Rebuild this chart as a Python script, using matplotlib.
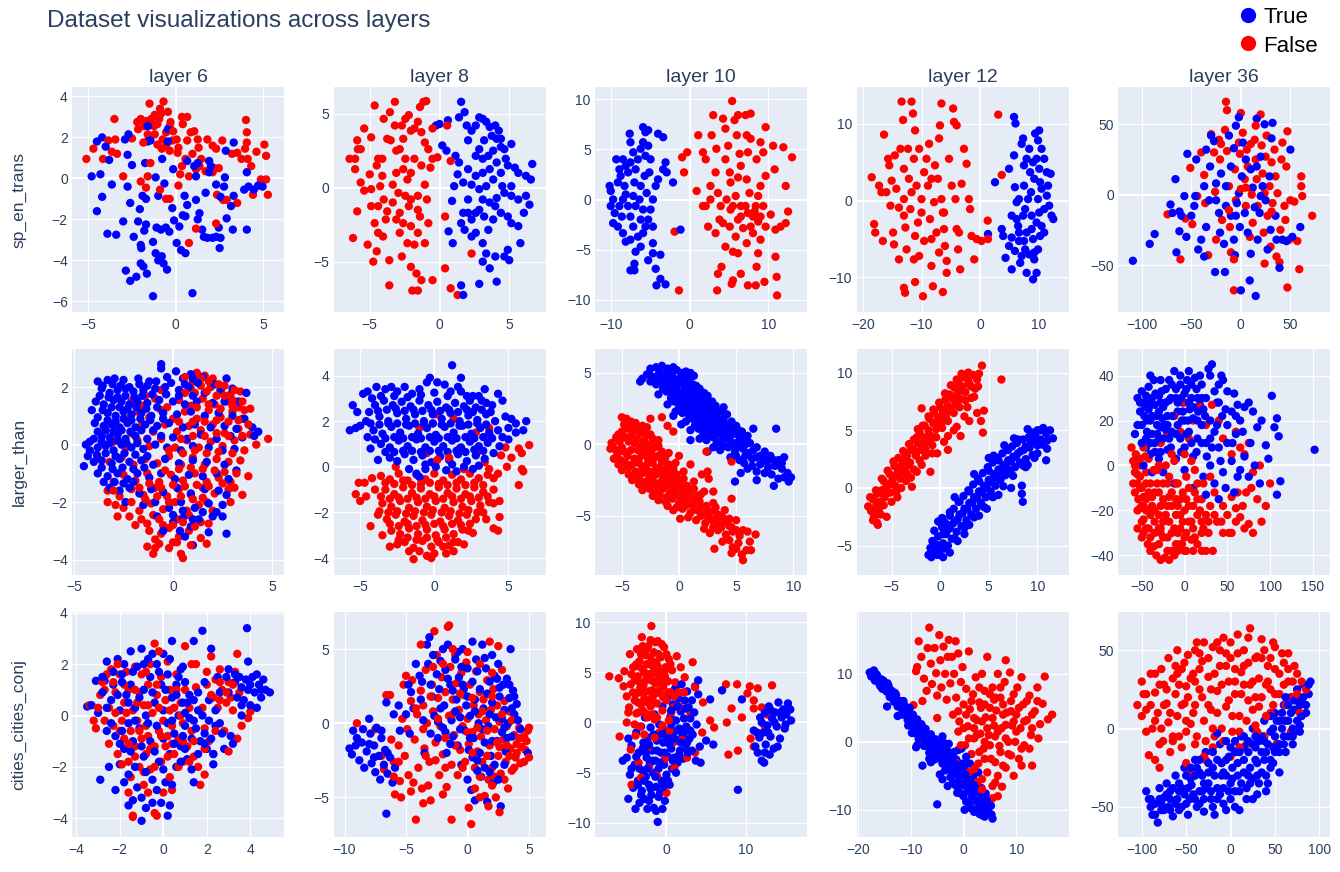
import matplotlib
matplotlib.use("Agg")
import matplotlib.pyplot as plt
import numpy as np
from matplotlib.lines import Line2D

plt.rcParams['font.family'] = ['Liberation Sans', 'DejaVu Sans']

datasets = ["sp_en_trans", "larger_than", "cities_cities_conj"]
layers = [6, 8, 10, 12, 36]

# flat x, y pairs, one list per panel and label
sp_l6_true = [-4.8,0.1, -4.5,1.8, -4.2,2.0, -4.3,0.2, -4.2,-0.9, -4.5,-1.6, -3.9,-2.7, -3.4,-2.75, -3.65,-0.3, -3.8,0.9, -4.0,1.55, -2.9,1.9, -2.7,2.15, -2.75,1.15, -2.5,0.65, -2.75,-0.4, -2.6,-1.2, -3.0,-2.1, -2.85,-4.5, -2.6,-5.0, -2.25,-4.8, -2.0,-4.15, -1.65,-4.65, -1.85,-4.3, -1.8,-2.55, -2.15,-2.1, -2.4,-2.85, -2.0,-3.25, -1.97,-3.4, -1.7,-2.25, -2.05,-1.5, -1.7,-1.0, -1.9,-0.85, -1.75,0.75, -1.6,1.8, -1.6,2.55, -1.45,1.85, -1.3,-5.75, -1.3,-3.1, -1.15,-3.65, -1.0,-4.0, -0.8,-3.8, -0.7,-4.15, -0.5,-4.45, -0.85,-2.5, -1.1,-2.4, -0.57,-2.4, -0.37,-2.6, -1.0,-0.85, -0.65,-0.25, -0.78,0.95, -0.45,2.4, -0.15,0.45, -0.2,-1.45, -0.1,-2.05, 0.05,-3.15, 0.3,-3.5, 0.55,-3.65, 0.2,-2.35, 0.5,-0.85, 0.65,-1.3, 0.4,-1.8, 0.55,-1.85, 0.95,-5.6, 1.05,0.6, 1.25,0.75, 1.15,0.1, 1.35,-1.7, 1.25,-2.0, 1.5,-2.5, 1.6,-2.85, 1.8,-2.9, 2.1,-2.9, 2.3,-2.85, 2.45,-2.4, 2.55,-2.9, 2.5,-3.4, 2.9,-1.95, 2.75,-0.4, 2.3,-0.3, 2.55,-0.9, 1.9,0.3, 1.9,0.85, 1.7,-0.7, 2.8,0.05, 2.85,1.35, 3.3,1.75, 3.3,-0.85, 3.25,-2.5, 4.05,-2.5, 3.9,-0.55, 4.05,0.3, 4.45,-0.55, 4.7,-0.35, 4.95,-0.4, 4.15,-0.4, 3.15,-1.35, 1.15,-1.05, -1.15,0.05, -0.45,1.8, 0.65,0.85, 2.0,0.6]
sp_l6_false = [-5.1,0.95, -4.7,1.45, -4.15,0.95, -3.85,1.85, -3.5,2.9, -3.45,1.9, -3.35,1.2, -3.65,1.3, -3.0,0.1, -2.5,1.95, -2.2,2.75, -2.15,2.4, -2.0,2.9, -1.8,2.55, -1.7,2.8, -1.6,2.15, -1.55,1.9, -1.4,2.9, -1.5,3.65, -1.25,2.55, -1.2,2.15, -1.05,2.65, -0.95,2.9, -0.85,3.15, -0.7,3.75, -0.9,3.4, -0.45,3.25, -0.35,2.55, -0.55,2.25, -0.75,1.9, -1.05,1.65, -0.8,1.45, -0.55,1.6, -0.35,1.35, -0.2,1.85, 0.05,1.9, 0.15,1.5, 0.1,1.25, 0.35,3.0, 0.65,3.0, 0.4,2.65, 0.65,1.85, 0.85,2.25, 1.05,2.3, 0.95,1.2, 0.55,0.95, 0.35,0.6, 0.25,0.2, 0.15,-0.35, 0.75,0.1, 1.15,0.45, 1.35,0.6, 1.3,1.5, 1.45,0.95, 1.8,1.9, 2.1,1.6, 2.3,1.45, 2.45,0.5, 2.2,0.5, 2.1,0.3, 1.7,0.35, 2.65,1.85, 2.35,-0.8, 2.9,-1.05, 2.7,-1.05, 3.5,-1.2, 3.2,1.2, 3.5,1.25, 3.75,0.95, 3.95,1.45, 4.0,2.85, 4.05,2.25, 4.1,0.95, 4.05,1.75, 4.3,0.6, 4.4,-0.8, 4.6,1.3, 5.05,1.65, 5.15,1.1, 5.15,-0.05, 5.25,-0.8, 4.85,-0.05, 2.3,-2.2, 1.15,-2.45, 0.75,-3.15, -0.55,-1.0, -0.35,-1.0, -0.9,-0.55, -1.7,-0.45, -2.0,-0.15, -1.6,0.1, -1.45,0.75, -1.85,1.75, -0.15,2.3, 1.25,1.9, -0.3,2.75, -1.2,3.1]

sp_l8_true = [-0.25,4.2, 0.0,4.3, 0.6,4.55, 0.2,2.85, 0.5,2.5, 1.15,2.15, 1.4,1.7, 1.3,0.9, 1.05,0.1, 0.9,-0.9, 0.65,-2.95, 0.95,-3.75, 1.55,-2.4, 1.7,-1.7, 2.05,-1.7, 2.3,-2.15, 2.6,-1.7, 2.85,-1.5, 2.05,-0.8, 1.7,0.35, 1.4,4.75, 1.55,5.8, 1.8,5.1, 1.95,4.2, 2.05,3.2, 2.3,3.85, 2.6,4.2, 2.85,4.75, 3.1,4.65, 3.35,4.45, 3.6,4.1, 4.0,4.2, 4.25,3.85, 4.4,3.3, 4.1,3.3, 3.75,3.5, 3.2,3.2, 2.85,2.6, 2.6,2.15, 3.1,1.95, 3.5,2.15, 3.85,2.5, 4.4,2.75, 4.65,2.6, 5.15,2.95, 4.75,1.95, 4.1,1.7, 3.6,1.25, 3.1,1.0, 2.6,0.8, 2.3,0.2, 2.85,-0.1, 3.35,0.1, 3.85,0.55, 4.4,1.0, 4.9,1.5, 5.4,1.35, 5.65,1.0, 6.2,0.8, 6.55,0.55, 6.65,1.6, 6.2,-0.55, 6.45,-1.15, 6.05,-1.7, 5.65,-0.8, 5.15,-0.55, 4.65,-0.35, 4.1,-0.7, 3.6,-1.0, 3.1,-0.8, 3.2,-1.95, 3.85,-2.15, 4.4,-1.7, 4.9,-1.95, 5.15,-2.4, 5.65,-2.6, 5.8,-3.75, 4.9,-4.2, 5.0,-4.9, 4.65,-4.65, 4.1,-6.35, 4.0,-4.65, 3.35,-4.45, 3.1,-5.0, 3.6,-5.45, 2.85,-6.5, 3.1,-3.75, 2.6,-3.05, 2.3,-3.3, 1.8,-2.85, 1.55,-6.6, 1.7,-7.25, 2.05,1.25, 4.5,0.1, 4.0,-1.25, 5.15,0.1, 3.5,-2.85]
sp_l8_false = [-6.45,1.95, -6.05,1.95, -5.9,3.2, -5.85,2.6, -5.65,2.6, -5.4,4.0, -4.65,5.55, -4.9,3.4, -6.05,1.25, -5.65,0.35, -5.4,-0.2, -5.9,-1.6, -6.2,-3.4, -5.15,-3.85, -4.75,-5.0, -4.5,-4.3, -4.4,-1.25, -4.9,-1.25, -5.0,0.9, -4.5,1.5, -4.4,1.95, -4.1,1.95, -4.25,0.1, -4.0,-0.8, -3.85,-2.15, -4.65,-2.4, -4.4,-3.05, -4.05,-3.3, -3.6,-4.9, -3.6,-6.6, -4.0,4.65, -3.75,3.3, -3.5,3.2, -3.55,5.1, -3.2,5.8, -3.2,4.2, -3.1,2.5, -2.85,2.6, -2.7,4.2, -2.6,3.3, -2.45,4.65, -2.2,4.9, -2.05,3.85, -1.8,4.0, -1.55,4.45, -1.4,5.45, -1.15,5.8, -0.95,5.85, -0.5,4.0, -1.05,3.05, -0.8,2.6, -0.5,1.95, -0.15,2.05, -0.65,1.35, -1.3,1.5, -1.8,1.95, -2.05,1.0, -2.3,0.55, -2.6,1.25, -3.1,1.0, -3.35,0.2, -2.95,-0.35, -2.45,-0.55, -2.05,-0.8, -1.55,-0.55, -1.05,0.2, -0.9,-0.8, -1.55,-1.5, -2.2,-1.25, -2.85,-1.7, -3.1,-2.15, -2.6,-2.4, -2.05,-2.6, -1.55,-3.05, -1.05,-3.75, -0.8,-2.4, -1.8,-3.85, -2.3,-3.75, -2.7,-4.65, -2.05,-5.35, -1.65,-5.8, -1.3,-6.25, -1.55,-6.95, -1.95,-6.95, -0.5,-6.25, 0.4,-5.45, 0.8,-6.8, 1.3,-7.25, 2.3,-4.45, 0.4,-1.95, 0.8,1.8, 0.55,4.2, -4.9,-0.1, -3.75,-1.6, -2.85,-3.05, -1.4,-1.95, -4.1,0.8, -2.45,1.95, -1.3,3.75, -3.35,-1.0]

sp_l10_true = [-10.15,1.35, -10.0,0.85, -9.7,0.0, -10.0,-0.65, -9.7,-2.35, -9.5,-1.35, -9.3,4.0, -8.9,3.0, -8.75,2.35, -9.1,1.7, -8.45,4.0, -8.1,3.35, -7.6,6.55, -7.5,5.7, -7.15,4.7, -7.5,3.7, -7.8,2.7, -8.25,1.35, -8.45,0.0, -8.9,-0.65, -8.6,-1.7, -9.1,-2.7, -8.45,-3.35, -8.1,-4.2, -7.5,-4.0, -7.15,-2.7, -7.5,-1.7, -7.8,-0.65, -7.15,0.35, -7.0,1.7, -6.85,3.0, -6.55,4.0, -6.2,5.05, -5.9,7.2, -5.6,6.7, -5.25,6.9, -5.9,5.7, -5.6,4.35, -5.25,5.35, -4.95,4.0, -5.1,2.7, -5.7,2.35, -6.2,1.35, -6.35,0.0, -5.9,-1.0, -6.2,-2.0, -5.6,-2.7, -5.25,-2.0, -4.95,-1.0, -4.65,0.0, -4.3,1.35, -4.0,2.0, -4.0,6.55, -3.35,6.2, -3.05,3.7, -3.35,3.0, -2.1,1.7, -2.9,2.7, -6.55,-3.7, -6.2,-4.7, -6.85,-5.2, -7.5,-7.05, -7.0,-6.4, -7.0,-7.05, -5.25,-6.05, -4.65,-4.35, -4.65,-5.35, -3.7,-5.5, -4.3,-6.9, -4.2,-8.55, -3.7,-7.9, -3.05,-8.45, -1.15,-3.0, -5.9,-3.35, -8.1,0.5, -6.85,-0.65, -5.45,0.65, -4.65,-2.7]
sp_l10_false = [-1.9,-3.2, -1.35,-9.05, -0.95,4.2, -0.3,4.7, -0.7,2.7, 0.9,0.85, 1.1,6.4, 1.7,4.7, 2.05,4.0, 1.7,-0.65, 2.35,-2.7, 3.0,8.4, 2.8,6.4, 3.4,5.05, 3.3,2.7, 2.65,1.35, 3.6,0.65, 3.95,-0.65, 3.8,-2.0, 3.3,-3.35, 3.6,-7.4, 3.5,-9.05, 4.05,-6.7, 4.25,8.05, 4.55,7.05, 4.9,5.35, 4.55,4.0, 5.1,2.7, 5.2,1.7, 4.7,0.0, 5.2,-1.0, 5.1,-2.7, 4.55,-4.7, 5.4,9.8, 5.7,7.9, 6.0,6.4, 6.15,8.4, 6.35,4.55, 6.5,3.35, 6.15,2.2, 5.85,0.35, 6.5,-0.65, 6.15,-2.0, 5.85,-3.7, 5.5,-5.2, 6.15,-5.35, 6.5,-7.4, 5.5,-8.05, 5.35,-8.4, 7.1,8.4, 7.75,8.55, 7.25,6.4, 7.75,6.05, 7.4,4.7, 7.25,2.0, 7.6,0.65, 7.1,-0.65, 7.4,-1.35, 8.05,-1.7, 7.75,-2.7, 7.25,-4.35, 8.05,-3.35, 8.4,-0.65, 8.7,0.35, 8.5,4.0, 9.0,5.7, 9.65,7.2, 9.35,4.7, 9.65,2.35, 9.0,1.35, 9.35,-0.65, 9.65,-2.7, 9.0,-4.0, 8.7,-5.35, 8.5,-6.7, 8.4,-8.55, 7.4,-8.55, 9.5,-8.2, 10.9,-5.7, 11.05,-7.7, 11.1,-9.55, 10.8,3.0, 10.6,5.35, 11.9,5.2, 13.0,4.2, 12.2,1.35, 12.5,-1.2, 12.2,-2.35, 10.9,-3.0, 11.55,-2.7, 10.3,-1.5, 9.0,-1.7, 6.5,-1.7, 5.5,-0.65, 2.05,-0.65, 2.65,0.0, 4.25,-2.35, 8.7,-2.2, 6.8,-2.85, 8.25,-1.2]

sp_l12_true = [2.55,2.4, 1.35,-4.35, 3.7,-3.7, 3.95,-4.6, 4.35,-7.45, 4.95,4.15, 5.4,-1.95, 5.8,10.9, 6.05,10.05, 5.8,5.9, 5.95,1.75, 5.4,-8.95, 5.95,-6.55, 6.25,-0.2, 6.5,-3.3, 6.65,-5.25, 6.85,-8.1, 7.1,7.4, 7.35,8.1, 7.5,4.6, 7.5,1.95, 7.7,-1.1, 7.95,-4.15, 7.7,-6.35, 7.95,-9.4, 8.4,6.75, 8.55,3.7, 8.7,1.1, 8.8,-1.95, 9.05,-5.0, 9.25,-7.65, 9.05,-10.25, 9.65,-9.4, 9.4,8.75, 10.1,9.15, 9.9,7.85, 9.65,5.45, 10.1,4.15, 10.25,2.4, 9.9,0.2, 10.1,-1.55, 10.5,-3.3, 10.25,-4.6, 9.9,-6.35, 9.25,-6.75, 10.95,5.45, 11.4,3.7, 11.6,1.95, 11.8,-0.65, 12.2,-1.95, 12.5,-2.4, 12.05,3.5, 11.4,0.65, 10.95,-1.1, 10.5,1.55, 9.25,2.85, 8.2,0.2, 7.35,-1.95, 6.65,0.2, 7.95,5.45, 8.8,-3.7, 7.1,-7.2, 8.4,-7.0, 5.4,-4.8, 6.25,-2.4, 4.95,-5.9, 6.65,-4.15, 9.65,-2.85, 10.95,-4.15, 7.5,-5.25, 9.05,5.0, 10.5,6.75]
sp_l12_false = [-18.5,3.05, -18.1,-3.05, -17.9,-4.15, -17.25,1.95, -16.85,1.1, -16.6,-5.25, -16.4,8.6, -16.0,1.1, -15.7,5.45, -15.1,2.6, -15.3,-0.65, -14.85,-4.15, -14.7,-5.7, -14.55,5.9, -14.3,1.55, -13.85,-7.65, -13.6,6.75, -13.4,12.9, -13.15,10.5, -13.0,4.15, -13.0,0.2, -12.75,-3.5, -12.55,-6.35, -13.0,-11.35, -12.8,-12.0, -12.3,6.75, -12.15,2.85, -11.9,-1.1, -11.7,12.9, -11.45,11.35, -11.1,9.15, -11.3,5.45, -10.85,1.95, -10.6,-2.85, -11.1,-4.6, -10.4,-7.2, -11.1,-10.6, -9.75,-12.45, -10.0,0.2, -9.55,3.7, -9.15,5.45, -8.7,7.4, -8.9,1.95, -8.55,-2.4, -9.55,-5.25, -8.3,-5.0, -8.3,-8.5, -8.05,-11.15, -7.7,4.6, -7.2,2.85, -7.0,8.1, -6.85,9.8, -6.6,12.65, -6.6,0.2, -6.35,-1.55, -6.15,-3.7, -6.0,-5.9, -5.7,-7.85, -5.7,-9.4, -6.35,-11.9, -5.3,5.45, -4.85,1.95, -4.6,12.0, -4.45,10.25, -4.0,9.8, -4.2,0.2, -4.0,-3.7, -3.6,-4.15, -3.75,-6.35, -3.4,-8.95, -2.75,6.75, -2.3,4.8, -3.15,2.2, -1.9,0.2, -1.7,-1.1, -1.45,-4.6, -1.0,-7.65, -0.6,-5.0, 0.25,-5.25, 1.3,-2.6, 1.35,-5.0, 3.1,11.2, 3.7,3.35, -15.5,4.6, -11.7,1.1, -7.85,-0.2, -8.3,2.85, -10.0,-1.55, -6.15,-1.55, -10.4,6.75, -7.45,-4.15, -13.0,-1.95, -13.85,-0.9, -11.3,-7.65, -7.0,-6.75]

sp_l36_true = [-109,-47, -92,-35, -87,-28, -71,-7, -69,-13, -65,-41, -66,11, -62,-12, -62,-26, -60,-15, -57,-1, -54,29, -55,-30, -50,-15, -47,-8, -46,-1, -45,25, -43,-39, -40,-32, -37,-44, -35,-23, -32,-4, -31,20, -30,42, -27,38, -26,-55, -25,8, -22,-13, -21,-27, -20,15, -17,-35, -16,-55, -15,-8, -12,42, -10,20, -7,33, -6,-43, -5,49, -4,-6, -2,55, -2,1, -1,-23, 0,-68, 1,13, 2,37, 4,-13, 5,25, 7,-27, 9,-61, 10,-42, 12,5, 14,-9, 15,-72, 16,54, 16,20, 17,-32, 19,-13, 20,27, 22,6, 24,50, 25,-4, 27,-39, 29,13, 31,40, 32,51, 35,-15, 36,-32, 39,-52, 42,-32, 46,-33, 50,32, 52,-30, 60,-23, 10,18, -10,-15, -25,-4, -37,6, -15,6, -5,-15, 20,-1, 30,-25, -35,32, -7,-32]
sp_l36_false = [-74,-14, -61,-46, -56,-17, -51,19, -49,-21, -44,-1, -40,30, -37,14, -36,-6, -33,-43, -30,43, -27,30, -26,2, -22,39, -21,25, -19,-18, -16,46, -14,31, -12,6, -15,66, -14,60, -11,-23, -10,-41, -7,-68, -6,18, -5,-4, -2,37, -1,29, 0,58, 2,44, 4,11, 5,-8, 6,32, 7,20, 9,-30, 10,36, 11,4, 12,-20, 14,39, 15,25, 16,11, 17,-8, 20,57, 21,35, 22,15, 23,-27, 24,1, 25,27, 26,42, 27,-15, 29,6, 30,-37, 31,23, 32,-6, 34,32, 35,13, 36,-44, 37,1, 39,-48, 40,-25, 41,25, 42,37, 44,-8, 46,20, 47,45, 47,-66, 49,-32, 50,-4, 54,-5, 57,-33, 59,-53, 61,13, 61,6, 62,-1, 72,-15, 11,0, 0,4, -20,36, 15,49, -7,-46, -25,-32, 24,-49, -12,-11, 31,-12, 45,-18, 5,5]

lt_l6_true = [-0.6,2.8, -0.6,2.65, 0.15,2.55, 0.9,2.45, -3.8,2.2, -3.3,2.25, -2.95,2.3, -2.5,2.25, -1.7,2.1, -1.2,2.2, -0.3,2.35, 0.5,2.3, 1.0,2.3, 1.5,2.35, 2.7,2.3, 2.1,2.1, -3.6,1.95, -3.2,1.8, -2.8,1.9, -2.4,1.95, -2.0,1.85, -1.5,1.9, -0.9,1.95, -0.4,2.0, 0.3,1.9, 0.8,2.0, 1.6,1.8, 2.4,1.9, 3.0,1.95, 3.7,1.8, 3.3,1.5, -3.9,1.5, -3.5,1.4, -3.0,1.55, -2.6,1.5, -2.2,1.4, -1.8,1.5, -1.3,1.45, -0.7,1.55, 0.0,1.5, 0.6,1.4, 1.2,1.5, 2.0,1.45, 2.6,1.5, -3.8,0.95, -3.3,1.1, -2.9,1.0, -2.5,1.15, -2.1,1.05, -1.6,1.1, -1.1,1.0, -0.5,1.1, 0.2,1.05, 0.9,1.15, 1.6,1.0, 2.3,1.1, 3.0,1.0, 3.6,0.9, -3.5,0.65, -3.1,0.7, -2.7,0.6, -2.3,0.75, -1.9,0.6, -1.4,0.7, -0.8,0.65, -0.2,0.75, 0.5,0.6, 1.1,0.7, 1.9,0.6, 2.6,0.65, 3.2,0.55, 4.0,0.6, 4.3,0.45, 4.1,0.3, -4.0,0.2, -3.6,0.3, -3.2,0.25, -2.8,0.35, -2.4,0.2, -1.9,0.3, -1.3,0.2, -0.6,0.3, 0.0,0.25, 0.7,0.2, 1.4,0.35, 2.2,0.2, 2.9,0.3, 3.5,0.25, -4.4,0.0, -4.2,-0.2, -3.8,-0.1, -3.4,-0.05, -3.0,-0.2, -2.6,0.0, -2.1,-0.1, -1.5,-0.15, -0.9,0.0, -0.3,-0.1, 0.4,-0.2, 1.0,-0.05, 1.8,-0.1, 2.5,-0.2, 3.1,-0.15, -4.5,-0.75, -4.0,-0.6, -3.6,-0.55, -3.1,-0.65, -2.7,-0.5, -2.2,-0.6, -1.6,-0.55, -1.0,-0.7, -0.4,-0.5, 0.3,-0.65, 1.0,-0.55, 1.7,-0.6, 2.6,-0.7, 3.2,-0.9, -3.8,-1.0, -3.3,-1.1, -2.8,-1.0, -2.3,-1.2, -1.8,-1.0, -1.2,-1.15, -0.6,-1.0, 0.1,-1.2, 0.8,-1.05, 1.5,-1.1, 2.2,-1.0, 2.8,-1.2, -3.2,-1.5, -2.7,-1.6, -2.2,-1.5, -1.7,-1.7, -1.1,-1.55, -0.5,-1.65, 0.2,-1.5, 0.9,-1.7, 1.6,-1.55, 2.3,-1.6, 2.7,-1.75, -2.4,-2.0, -1.5,-2.1, -0.9,-2.0, -0.2,-2.2, 0.4,-2.0, 1.1,-2.2, 1.8,-2.05, 2.5,-2.1, -0.8,-2.5, 0.0,-2.7, 0.5,-2.55, 1.3,-2.6, 2.0,-2.5, 2.5,-2.5, 0.9,-2.85, 0.6,-3.2, 1.0,-3.5, 2.7,-3.1, 0.35,-3.0, 1.8,-3.05, -0.5,-3.0,
              -3.55,2.05, -3.05,2.1, -2.65,2.05, -2.2,2.0, -1.75,2.3, -1.3,2.05, -0.85,2.2, -0.1,2.15, 0.6,2.1, 1.25,2.15, -3.7,1.7, -3.25,1.65, -2.8,1.65, -2.4,1.7, -1.95,1.65, -1.55,1.7, -1.05,1.75, -0.35,1.75, 0.3,1.7, 1.0,1.7, -4.1,1.2, -3.55,1.2, -3.1,1.3, -2.7,1.3, -2.3,1.25, -1.85,1.3, -1.35,1.25, -0.8,1.3, -3.95,0.75, -3.3,0.85, -2.9,0.8, -2.5,0.9, -2.1,0.85, -1.65,0.9, -1.15,0.85, -0.5,0.9, -3.8,0.45, -3.4,0.5, -3.0,0.45, -2.6,0.5, -2.15,0.45, -1.6,0.5, -1.0,0.5, -4.2,0.1, -3.6,0.1, -3.2,0.05, -2.8,0.15, -2.35,0.05, -1.8,0.05, -4.3,-0.4, -3.85,-0.35, -3.4,-0.3, -2.9,-0.4, -2.45,-0.3, -1.9,-0.35, -1.3,-0.4, -3.6,-0.8, -3.05,-0.85, -2.55,-0.8, -2.0,-0.85, -1.45,-0.8, -3.5,-1.3, -2.95,-1.3, -2.5,-1.35, -2.0,-1.3, 0.5,-2.3, 1.5,-2.35, 2.2,-2.35, 0.0,-2.45, 1.0,-2.6]
lt_l6_false = [1.2,2.5, 1.6,2.4, 2.0,2.3, 1.0,2.2, 0.9,1.95, 1.4,2.05, 1.9,2.0, 2.4,1.9, 2.9,1.75, 3.4,1.85, -0.6,1.9, -1.4,1.7, -2.1,1.5, -1.5,1.35, -0.9,1.6, -0.3,1.3, 0.3,1.55, 0.9,1.35, 1.5,1.6, 2.1,1.4, 2.7,1.5, 3.3,1.3, -2.4,0.9, -1.8,1.15, -1.2,0.95, -0.6,1.2, 0.0,0.9, 0.6,1.15, 1.2,0.9, 1.8,1.2, 2.4,0.95, 3.0,1.15, 3.6,1.2, 3.9,1.25, 3.5,0.9, -2.9,0.5, -2.1,0.4, -1.6,0.65, -1.0,0.45, -0.4,0.7, 0.2,0.45, 0.8,0.65, 1.4,0.5, 2.0,0.7, 2.6,0.4, 3.3,0.55, 3.9,0.35, 4.8,0.2, -3.0,0.1, -2.4,-0.1, -1.8,0.15, -1.2,-0.05, -0.6,0.2, 0.1,-0.1, 0.7,0.15, 1.3,-0.1, 1.9,0.1, 2.5,-0.05, 3.1,0.15, 3.6,-0.2, -3.8,-0.45, -3.2,-0.6, -2.6,-0.45, -2.0,-0.7, -1.4,-0.5, -0.8,-0.65, -0.2,-0.4, 0.4,-0.7, 1.0,-0.45, 1.6,-0.7, 2.2,-0.5, 2.8,-0.6, 3.4,-0.55, -3.0,-1.3, -2.5,-1.05, -1.9,-1.25, -1.3,-1.0, -0.7,-1.3, -0.1,-1.05, 0.5,-1.25, 1.1,-1.0, 1.7,-1.3, 2.3,-1.15, 2.9,-1.3, 3.8,-1.1, -3.3,-1.6, -2.7,-1.8, -2.1,-1.55, -1.5,-1.75, -0.9,-1.5, -0.3,-1.8, 0.3,-1.55, 0.9,-1.75, 1.5,-1.5, 2.1,-1.7, 2.8,-1.55, 3.1,-1.5, 3.5,-1.75, -3.3,-2.0, -2.9,-2.1, -2.5,-2.2, -1.7,-2.3, -1.1,-2.05, -0.5,-2.25, 0.1,-2.0, 0.7,-2.3, 1.3,-2.1, 2.0,-2.3, 2.9,-2.0, 1.7,-2.0, -2.2,-2.5, -1.6,-2.6, -1.0,-2.45, -0.5,-2.8, 0.2,-2.6, 0.8,-2.45, 1.4,-2.7, 1.8,-2.75, -1.2,-3.0, -0.6,-3.1, -0.2,-2.9, 0.3,-3.2, 0.8,-3.0, 1.4,-3.25, -0.9,-3.3, -1.3,-3.55, -0.7,-3.45, -0.2,-3.6, 0.2,-3.4, 0.5,-3.95, 0.4,-3.8, 1.7,-3.45, -0.9,-3.6,
               0.6,2.35, 1.4,2.3, 1.8,2.2, 2.3,2.1, 2.6,2.05, 3.1,1.9, 0.6,1.8, 1.1,1.8, 1.7,1.85, 2.2,1.7, 2.6,1.7, 3.0,1.55, 1.2,1.3, 1.8,1.4, 2.4,1.25, 3.0,1.35, 3.5,1.5, 0.3,0.8, 1.0,0.8, 1.6,0.8, 2.2,0.85, 2.8,0.8, 3.3,0.85, 3.8,0.7, 0.4,0.2, 1.0,0.3, 1.6,0.3, 2.2,0.4, 2.8,0.3, 3.5,0.3, 4.2,0.0, -0.2,-0.2, 0.5,-0.3, 1.1,-0.2, 1.7,-0.3, 2.3,-0.25, 3.0,-0.3, -0.4,-0.9, 0.3,-0.85, 0.9,-0.8, 1.5,-0.85, 2.1,-0.9, 2.6,-0.95, 3.2,-1.0, -1.7,-1.5, -1.2,-1.35, -0.6,-1.5, 0.0,-1.4, 0.6,-1.45, 1.2,-1.4, 1.8,-1.45, 2.5,-1.35, -2.1,-2.0, -1.4,-1.9, -0.8,-1.8, -0.2,-2.0, 0.4,-1.8, 1.0,-1.9, 1.5,-1.85, -1.9,-2.8, -1.3,-2.75, -0.7,-2.6, 0.0,-2.8, 0.5,-2.7, 1.1,-2.85, -1.0,-3.8, 0.0,-3.4, 0.9,-3.5, -2.8,-2.5, -3.0,-1.6]

lt_l8_true = [-5.7,1.6, -5.5,2.7, -5.3,1.7, -5.0,1.8, -5.2,2.4, -4.8,3.2, -4.5,3.3, -4.2,3.0, -4.6,2.0, -4.5,1.3, -4.3,0.8, -3.8,0.3, -3.9,3.5, -3.3,3.4, -2.9,3.5, -2.5,3.3, -2.0,3.5, -1.5,3.2, -1.0,3.4, -0.5,3.7, -0.3,3.9, 0.2,3.7, 0.7,3.6, 1.2,4.45, 1.1,3.3, 1.6,3.5, 1.8,3.9, 2.2,3.1, 2.6,3.1, 3.0,3.1, 3.4,3.4, 3.2,2.9, 3.5,2.8, 4.3,3.2, 4.6,2.9, 4.8,2.2, 5.2,2.1, 5.5,1.9, 6.2,2.0, 6.0,1.6, 5.0,1.2, 5.5,1.5, -4.0,2.7, -3.4,2.9, -2.8,2.7, -2.2,2.85, -1.6,2.65, -1.0,2.9, -0.4,2.7, 0.2,2.85, 0.8,2.6, 1.4,2.8, 2.0,2.65, 2.8,2.6, 3.9,2.7, -3.7,2.2, -3.1,2.0, -2.5,2.35, -1.9,2.1, -1.3,2.3, -0.7,2.0, -0.1,2.3, 0.5,2.1, 1.1,2.35, 1.7,2.0, 2.3,2.25, 2.9,2.05, 3.5,2.3, 4.1,2.0, -4.1,1.6, -3.5,1.45, -2.9,1.75, -2.3,1.5, -1.7,1.8, -1.1,1.45, -0.5,1.7, 0.1,1.4, 0.7,1.75, 1.3,1.5, 1.9,1.8, 2.5,1.45, 3.1,1.7, 3.7,1.5, 4.3,1.6, -3.6,1.0, -3.0,0.85, -2.4,1.15, -1.8,0.9, -1.2,1.2, -0.6,0.85, 0.0,1.1, 0.6,0.9, 1.2,1.15, 1.8,0.85, 2.4,1.1, 3.0,0.9, 3.6,1.05, 4.4,0.9, -3.0,0.4, -2.5,0.25, -2.0,0.55, -1.4,0.3, -0.8,0.5, -0.2,0.2, 0.4,0.45, 1.0,0.3, 1.6,0.55, 2.2,0.25, 2.8,0.5, 3.4,0.35, 4.0,0.6, -1.7,-0.1, -1.2,-0.3, -1.0,-0.45, -0.6,-0.1, 0.8,-0.15, 1.5,-0.2, 2.6,-0.1, 3.0,0.05,
              -4.4,2.4, -3.8,2.45, -3.2,2.5, -2.6,2.55, -2.0,2.45, -1.4,2.5, -0.8,2.45, -0.2,2.5, 0.4,2.45, 1.0,2.5, 1.6,2.4, 2.2,2.5, 2.6,2.4, 3.2,2.5, 3.8,2.4, -4.3,1.9, -3.7,1.85, -3.1,1.9, -2.5,1.9, -1.9,1.85, -1.3,1.9, -0.7,1.85, -0.1,1.9, 0.5,1.85, 1.1,1.9, 1.7,1.8, 2.3,1.85, 2.9,1.9, 3.5,1.85, -4.0,1.2, -3.3,1.25, -2.7,1.3, -2.1,1.25, -1.5,1.3, -0.9,1.25, -0.3,1.3, 0.3,1.25, 0.9,1.3, 1.5,1.25, 2.1,1.3, 2.7,1.25, 3.3,1.3, 3.9,1.25, -3.3,0.65, -2.7,0.65, -2.1,0.7, -1.5,0.7, -0.9,0.65, -0.3,0.7, 0.3,0.7, 0.9,0.65, 1.5,0.7, 2.1,0.65, 2.7,0.75, 3.3,0.7, -3.6,3.1, -2.7,3.1, -1.8,3.05, -0.9,3.15, 0.0,3.25, 0.9,3.1, 1.8,3.3, 2.4,2.9, -0.6,0.1, 0.1,0.0, 1.2,0.1, 2.0,0.0, 4.6,1.3, 5.0,1.7]
lt_l8_false = [-5.3,-1.2, -5.0,-1.5, -5.1,-0.7, -4.7,-0.7, -4.6,-1.3, -4.2,-0.5, -4.0,-1.0, -4.3,-2.6, -3.8,-2.1, -3.5,-3.0, -3.0,-3.5, -2.5,-3.4, -1.4,-4.05, -0.2,-4.0, 0.6,-3.5, 1.3,-3.7, 2.0,-3.4, 2.6,-2.9, 3.5,-2.3, 4.0,-2.7, 4.3,-2.8, 4.4,-2.2, 4.0,-1.0, 4.3,-0.3, 4.9,0.0, 5.2,0.4, 5.7,0.8, 6.4,0.95, 5.9,0.6, 5.9,-0.1, 6.0,-0.2, 5.7,-0.8, 4.5,0.5, 4.8,0.85, 3.8,1.3, 3.7,1.7, 2.8,1.5, 1.3,2.1, 0.1,2.3, -0.1,1.9, -1.0,1.7, 1.7,0.8, 3.0,0.7, 3.4,0.2, -0.5,0.6, -2.6,0.0, -3.6,-0.4, -3.0,-0.55, -2.4,-0.3, -1.8,-0.6, -1.2,-0.35, -0.6,-0.55, 0.0,-0.3, 0.6,-0.6, 1.2,-0.35, 1.8,-0.55, 2.4,-0.3, 3.0,-0.5, 3.6,-0.35, -3.3,-1.0, -2.7,-1.2, -2.1,-0.9, -1.5,-1.15, -0.9,-0.95, -0.3,-1.2, 0.3,-0.9, 0.9,-1.15, 1.5,-0.95, 2.1,-1.2, 2.7,-0.9, 3.3,-1.1, -3.5,-1.6, -2.9,-1.75, -2.3,-1.5, -1.7,-1.8, -1.1,-1.55, -0.5,-1.75, 0.1,-1.5, 0.7,-1.8, 1.3,-1.55, 1.9,-1.75, 2.5,-1.5, 3.1,-1.7, 3.7,-1.55, -3.2,-2.3, -2.6,-2.1, -2.0,-2.4, -1.4,-2.15, -0.8,-2.35, -0.2,-2.1, 0.4,-2.4, 1.0,-2.15, 1.6,-2.35, 2.2,-2.1, 2.8,-2.3, 3.3,-2.0, -2.9,-2.8, -2.3,-2.95, -1.7,-2.7, -1.1,-2.95, -0.5,-2.75, 0.1,-3.0, 0.7,-2.75, 1.3,-2.95, 1.9,-2.75, 2.3,-2.8, -2.0,-3.3, -1.4,-3.55, -0.8,-3.25, -0.2,-3.5, 0.3,-3.3, 1.0,-3.45, 1.6,-3.3, -1.0,-3.7, 0.0,-3.8,
               -3.3,-0.7, -2.7,-0.75, -2.1,-0.6, -1.5,-0.8, -0.9,-0.75, -0.3,-0.7, 0.3,-0.75, 0.9,-0.8, 1.5,-0.7, 2.1,-0.8, 2.7,-0.7, 3.3,-0.8, -3.6,-1.3, -3.0,-1.4, -2.4,-1.35, -1.8,-1.4, -1.2,-1.35, -0.6,-1.4, 0.0,-1.3, 0.6,-1.4, 1.2,-1.3, 1.8,-1.4, 2.4,-1.3, 3.0,-1.35, 3.6,-1.3, -3.7,-1.95, -3.1,-2.0, -2.5,-1.95, -1.9,-2.05, -1.3,-1.95, -0.7,-2.0, -0.1,-1.9, 0.5,-2.0, 1.1,-1.95, 1.7,-2.05, 2.3,-1.9, 2.9,-2.0, -3.0,-2.5, -2.4,-2.6, -1.8,-2.5, -1.2,-2.6, -0.6,-2.55, 0.0,-2.5, 0.6,-2.6, 1.2,-2.5, 1.8,-2.55, 2.4,-2.5, -2.4,-3.2, -1.8,-3.1, -1.2,-3.2, -0.5,-3.1, 0.2,-3.2, 0.8,-3.1, 1.3,-3.3, -0.5,-3.9, -1.7,-3.7, 0.8,-3.8, 4.0,-0.5, 4.0,-1.6, 3.7,-0.1, 4.4,-1.5, 2.0,-0.1, 1.0,0.4, 0.2,0.3]

lt_l10_true = [-3.4,4.4, -3.2,4.6, -2.8,4.9, -2.5,5.3, -2.0,5.4, -1.5,5.5, -1.0,5.3, -0.5,5.4, 0.2,5.0, 0.6,5.1, 1.0,5.0, 1.3,4.8, -2.2,4.7, -1.8,4.9, -1.2,4.9, -0.6,4.8, 0.0,4.6, 0.6,4.5, -2.0,4.2, -1.4,4.3, -0.8,4.2, -0.2,4.1, 0.5,4.0, 1.2,4.2, 1.8,3.9, -1.8,3.5, -1.1,3.7, -0.5,3.5, 0.1,3.6, 0.7,3.4, 1.3,3.5, 1.9,3.3, 2.5,3.4, -1.0,2.8, -0.4,3.0, 0.2,2.9, 0.8,2.8, 1.4,2.95, 2.0,2.7, 2.6,2.8, 3.2,2.7, -0.3,2.3, 0.3,2.2, 0.9,2.4, 1.5,2.2, 2.1,2.3, 2.7,2.1, 3.3,2.3, 3.9,2.6, 4.2,2.1, 0.6,1.6, 1.2,1.8, 1.8,1.6, 2.4,1.7, 3.0,1.5, 3.6,1.7, 4.3,1.4, 5.2,1.0, 5.5,0.9, 1.0,1.0, 1.7,1.1, 2.3,1.0, 2.9,0.9, 3.5,1.0, 4.1,0.8, 4.7,0.9, 5.3,0.5, 6.0,0.6, 6.5,1.1, 8.5,1.1, 1.8,0.4, 2.4,0.3, 3.0,0.5, 3.6,0.2, 4.2,0.4, 4.8,0.1, 5.4,0.2, 6.2,0.1, 6.8,-0.2, 7.5,-0.5, 3.0,-0.2, 3.6,-0.4, 4.3,-0.2, 4.9,-0.5, 5.6,-0.3, 6.1,-0.6, 6.8,-0.9, 7.4,-1.0, 8.0,-0.8, 8.7,-1.1, 9.2,-0.9, 4.5,-0.9, 5.3,-1.1, 5.7,-1.3, 6.4,-1.5, 7.1,-1.4, 7.8,-1.6, 8.4,-1.5, 9.0,-1.7, 9.5,-2.0, 9.8,-2.3, 9.6,-2.6, 8.3,-2.9, 6.8,-2.5, 4.9,-2.6, 5.4,-2.0, 8.7,-2.4, 1.0,0.3, 0.2,1.4, -0.5,2.0, 2.5,-0.5,
               -2.6,4.9, -1.7,5.2, -0.9,5.1, -0.2,5.2, 0.4,4.8, 0.9,4.6, -2.5,4.4, -1.7,4.6, -1.0,4.6, -0.4,4.45, 0.3,4.3, 0.9,4.3, 1.5,4.1, -1.4,3.9, -0.8,3.85, -0.2,3.8, 0.4,3.75, 1.0,3.75, 1.6,3.7, 2.2,3.6, -0.7,3.25, -0.1,3.2, 0.5,3.15, 1.1,3.2, 1.7,3.1, 2.3,3.05, 2.9,3.0, 0.0,2.6, 0.6,2.55, 1.2,2.6, 1.8,2.5, 2.4,2.5, 3.0,2.4, 3.6,2.3, 0.9,2.0, 1.5,1.9, 2.1,1.95, 2.7,1.85, 3.3,1.9, 3.9,1.8, 4.6,1.6, 1.4,1.35, 2.0,1.3, 2.6,1.35, 3.2,1.25, 3.8,1.3, 4.4,1.1, 5.0,1.3, 2.1,0.7, 2.7,0.65, 3.3,0.7, 3.9,0.6, 4.5,0.6, 5.1,0.7, 5.7,0.4, 3.3,0.1, 3.9,-0.1, 4.5,-0.05, 5.1,-0.1, 5.8,0.0, 6.5,-0.4, 5.0,-0.8, 5.8,-0.8, 6.4,-1.0, 7.1,-0.8, 7.7,-1.2, 8.3,-1.1, 9.0,-1.3, 6.0,-1.7, 6.8,-1.9, 7.5,-2.0, 8.1,-2.1, 9.2,-2.3]
lt_l10_false = [-5.0,1.9, -4.6,1.8, -4.2,1.6, -3.8,1.5, -3.2,1.3, -2.8,1.2, -2.5,1.8, -1.5,1.9, -1.0,1.3, -0.5,0.9, 0.0,-0.8, 1.0,-1.4, 2.5,-1.9, -5.9,0.1, -5.5,0.5, -5.0,0.9, -4.5,1.1, -4.0,1.0, -3.5,0.8, -2.9,0.6, -2.3,0.4, -1.8,0.3, -6.0,-0.3, -5.5,-0.4, -5.0,-0.2, -4.4,0.2, -3.9,0.1, -3.3,-0.1, -2.7,-0.3, -2.1,-0.2, -1.5,-0.5, -0.9,-0.6, -5.7,-1.0, -5.1,-1.1, -4.5,-0.8, -3.9,-1.0, -3.3,-0.8, -2.7,-1.1, -2.1,-0.9, -1.5,-1.2, -0.9,-1.4, -0.3,-1.3, -5.0,-1.8, -4.4,-1.6, -3.8,-1.9, -3.2,-1.6, -2.6,-1.9, -2.0,-1.7, -1.4,-2.0, -0.8,-1.9, -0.2,-2.1, 0.4,-1.9, -4.1,-2.5, -3.5,-2.4, -2.9,-2.6, -2.3,-2.4, -1.7,-2.7, -1.1,-2.5, -0.5,-2.8, 0.1,-2.6, 0.7,-2.9, 1.3,-2.6, -3.2,-3.2, -2.6,-3.1, -2.0,-3.3, -1.4,-3.1, -0.8,-3.4, -0.2,-3.2, 0.4,-3.5, 1.0,-3.3, 1.6,-3.6, 2.2,-3.3, -1.8,-3.9, -1.2,-4.0, -0.6,-3.8, 0.0,-4.1, 0.6,-3.9, 1.2,-4.2, 1.8,-4.0, 2.4,-4.3, 3.0,-4.1, -0.5,-4.6, 0.3,-4.5, 1.0,-4.8, 1.6,-4.6, 2.2,-4.9, 2.8,-4.7, 3.4,-4.9, 4.0,-4.6, 0.1,-5.2, 1.5,-5.3, 2.3,-5.5, 2.9,-5.3, 3.5,-5.6, 4.1,-5.4, 4.6,-5.8, 5.0,-5.3, 2.7,-6.2, 3.4,-6.0, 4.1,-6.3, 4.7,-6.1, 5.3,-6.4, 6.0,-6.1, 6.7,-6.3, 3.1,-7.3, 4.6,-7.6, 5.0,-7.3, 5.5,-7.7, 5.9,-7.4, 6.3,-7.4, 4.7,-7.2, 5.6,-8.1, 1.7,-3.7, 2.0,-2.1, 2.6,-2.4, 3.0,-3.3, 4.6,-3.8, 4.6,-1.2, 2.4,-0.5,
                -5.3,0.7, -4.8,1.4, -4.3,1.4, -3.6,1.2, -3.0,0.9, -2.5,0.7, -5.8,-0.1, -5.2,0.2, -4.7,0.5, -4.2,0.6, -3.6,0.4, -3.0,0.2, -2.4,0.0, -1.8,-0.1, -5.4,-0.7, -4.8,-0.5, -4.2,-0.4, -3.6,-0.4, -3.0,-0.6, -2.4,-0.65, -1.8,-0.8, -1.2,-0.9, -5.3,-1.4, -4.7,-1.3, -4.1,-1.4, -3.5,-1.3, -2.9,-1.5, -2.3,-1.3, -1.7,-1.6, -1.1,-1.7, -0.5,-1.7, -4.4,-2.1, -3.8,-2.2, -3.2,-2.0, -2.6,-2.2, -2.0,-2.1, -1.4,-2.4, -0.8,-2.3, -0.2,-2.5, 0.4,-2.4, -3.5,-2.8, -2.9,-2.9, -2.3,-2.8, -1.7,-3.0, -1.1,-2.9, -0.5,-3.1, 0.1,-3.0, 0.7,-3.2, 1.3,-3.1, -2.3,-3.6, -1.7,-3.5, -1.1,-3.7, -0.5,-3.5, 0.1,-3.7, 0.7,-3.6, 1.3,-3.8, 1.9,-3.5, -1.0,-4.3, -0.2,-4.4, 0.6,-4.3, 1.3,-4.5, 1.9,-4.4, 2.5,-4.6, 3.2,-4.4, 0.8,-5.1, 1.9,-5.0, 2.6,-5.1, 3.2,-5.2, 3.8,-5.1, 4.4,-5.2, 2.2,-5.9, 3.0,-5.8, 3.7,-5.8, 4.4,-5.7, 5.0,-6.0, 5.6,-6.0, 3.8,-6.8, 4.4,-6.7, 5.2,-6.9, 6.2,-6.8]

lt_l12_true = [-1.2,-5.8, -0.9,-6.0, -0.6,-5.5, -1.0,-5.2, -0.4,-4.9, -0.6,-3.7, -0.2,-4.2, 0.0,-5.4, 0.2,-3.4, 0.3,-4.8, 0.5,-3.0, 0.6,-4.0, 0.8,-5.0, 1.0,-2.4, 1.0,-3.5, 1.2,-4.4, 1.4,-1.8, 1.5,-2.9, 1.7,-3.8, 1.9,-1.2, 2.0,-2.3, 2.2,-3.3, 2.4,-0.7, 2.5,-1.8, 2.7,-2.8, 2.9,-0.2, 3.0,-1.3, 3.2,-2.3, 3.4,0.3, 3.5,-0.8, 3.7,-1.8, 3.9,0.8, 4.0,-0.3, 4.2,-1.3, 4.4,1.3, 4.5,0.2, 4.7,-0.8, 4.9,1.8, 5.0,0.7, 5.2,-0.3, 5.4,2.2, 5.5,1.2, 5.7,0.2, 5.9,2.6, 6.0,1.6, 6.2,0.7, 6.4,3.0, 6.5,2.0, 6.7,1.1, 6.9,3.3, 7.0,2.4, 7.2,1.5, 7.4,3.6, 7.5,2.7, 7.7,1.8, 7.9,3.9, 8.0,3.0, 8.2,2.2, 8.5,4.2, 8.6,3.3, 8.8,2.5, 9.1,4.4, 9.2,3.5, 9.5,4.8, 9.7,3.9, 10.0,5.0, 10.3,4.2, 10.6,5.2, 10.9,4.7, 11.3,5.0, 11.6,4.3, 10.0,3.0, 8.8,1.8, 8.4,-0.5, 8.5,-1.2, 8.4,0.2, 7.3,0.0, 6.0,-0.6, 4.8,-1.8, 4.0,-2.4, 5.4,-0.8, 3.0,-3.2, 1.8,-4.6, 2.5,-4.0, -0.2,-2.9, 9.7,2.6, 10.9,2.4, 11.0,3.4, 6.6,3.7, 5.0,2.6,
               0.0,-3.0, 1.0,-2.1, 2.0,-1.2, 3.0,-0.3, 4.0,0.6, 5.0,1.5, 6.0,2.4, 7.0,3.3, 8.0,4.2, 9.0,5.1, 0.5,-5.25, 1.5,-4.35, 2.5,-3.45, 3.5,-2.55, 4.5,-1.65, 5.5,-0.75, 6.5,0.15, 7.5,1.05, 8.5,1.95, 9.5,2.85, 10.5,3.75, 0.3,-4.0, 0.8,-3.6, 1.3,-3.1, 1.8,-2.7, 2.3,-2.2, 2.8,-1.8, 3.3,-1.3, 3.8,-0.9, 4.3,-0.4, 4.8,0.0, 5.3,0.5, 5.8,0.9, 6.3,1.4, 6.8,1.8, 7.3,2.3, 7.8,2.7, 8.3,3.2, 8.8,3.6, 9.3,4.1, 9.8,4.5, 10.3,5.0, -0.8,-4.6, -0.3,-5.8, 0.3,-6.0, 1.0,-5.6, 0.2,-2.6, 1.5,-0.8, 3.5,1.2, 5.5,2.8, 7.6,4.3, 10.0,3.7, 11.0,4.1, 9.0,2.0]
lt_l12_false = [-7.4,-1.6, -7.1,-2.0, -6.8,-2.5, -6.5,-3.0, -6.9,-1.0, -6.5,-0.5, -6.6,-1.6, -6.2,-1.2, -6.0,-0.2, -6.1,-2.3, -5.8,0.6, -5.5,0.2, -5.7,-0.8, -5.3,-0.4, -5.2,1.2, -4.9,0.7, -5.0,-1.2, -4.6,0.2, -4.7,1.9, -4.4,1.3, -4.1,0.8, -4.3,2.6, -3.9,2.1, -3.6,1.5, -3.8,3.2, -3.4,2.8, -3.1,2.2, -3.5,0.6, -2.9,0.1, -3.2,3.8, -2.8,3.4, -2.5,2.8, -2.7,4.2, -2.3,3.9, -2.0,3.3, -2.1,4.8, -1.7,4.4, -1.4,3.9, -2.3,5.1, -1.6,5.4, -1.2,5.0, -0.9,4.5, -1.1,6.0, -0.7,5.6, -0.4,5.1, -0.6,6.5, -0.2,6.1, 0.1,5.6, -1.9,6.9, 0.0,7.0, 0.3,6.6, 0.6,6.2, 0.5,7.6, 0.8,7.1, 1.1,6.7, 1.0,8.1, 1.3,7.7, 1.6,7.2, 1.5,8.7, 1.8,8.2, 2.1,7.7, 1.9,9.2, 2.3,8.8, 2.6,8.3, 2.5,9.6, 2.9,9.3, 3.2,8.8, 3.4,9.8, 3.8,9.4, 4.3,10.6, 4.0,9.9, 6.3,9.4, 3.5,7.9, 4.5,6.7, 4.2,5.8, 4.4,4.8, 2.5,6.2, 1.7,5.3, 0.8,4.5, -0.8,3.7, -1.5,2.8, -2.4,1.4, -1.0,1.4, -5.5,-2.5, -6.4,-3.2, -0.3,3.0, 0.8,3.3, 2.1,4.5, 3.0,5.8, 2.8,7.0,
                -7.2,-0.8, -6.9,-2.8, -6.3,-2.0, -6.0,0.8, -5.8,-1.5, -5.4,1.5, -5.1,-0.4, -4.8,2.3, -4.5,-0.3, -4.2,1.8, -4.0,0.0, -3.7,2.6, -3.4,1.2, -3.0,3.3, -2.7,1.6, -2.4,4.4, -2.1,2.4, -1.8,5.4, -1.5,3.3, -1.2,6.2, -1.0,4.0, -0.7,6.8, -0.4,4.4, -0.1,7.4, 0.2,5.2, 0.5,8.2, 0.8,5.8, 1.1,8.9, 1.4,6.5, 1.7,9.4, 2.0,7.0, 2.2,9.9, 2.6,7.6, 2.9,10.0, 3.2,7.8, 3.6,8.6, 3.9,8.8, -6.6,-0.2, -5.9,-0.5, -5.2,0.3, -4.6,1.0, -3.9,1.4, -3.2,2.0, -2.5,3.0, -1.9,3.8, -1.2,4.5, -0.5,5.6, 0.2,6.2, 0.9,7.0, 1.6,7.8, 2.3,8.5, 3.0,9.0, -3.0,0.9, -1.9,2.0, -0.8,3.0, 0.4,4.0, 1.4,5.0, -4.4,-0.8, 3.8,6.5]

lt_l36_true = [-58,14, -55,18, -50,33, -48,28, -45,31, -42,25, -47,22, -52,24, -40,20, -44,15, -38,30, -35,27, -33,22, -30,31, -28,17, -25,26, -22,34, -20,22, -18,29, -15,36, -12,42, -10,30, -8,24, -5,36, -2,28, 0,32, 3,38, 6,25, 8,36, 12,39, 15,30, 18,27, 20,36, 25,30, 28,43, 32,45, 30,40, 35,33, 38,28, 40,36, 43,40, 45,38, 48,25, 50,33, 55,24, 58,32, 62,27, 65,20, 70,26, 75,28, 80,24, 85,17, 90,20, 95,9, 98,3, 102,31, 105,17, 108,21, 110,13, 112,-7, 108,-13, 88,-8, 82,0, 77,10, 68,15, 152,7, -45,8, -40,5, -35,10, -30,3, -25,12, -20,7, -15,15, -10,3, -5,12, 0,8, 5,15, 10,4, 15,12, 20,18, 25,10, 30,0, 35,15, 40,8, 45,-3, 50,10, 55,2, 60,14, 65,-2, 70,4, 48,-10, 35,-8, 22,-5, 10,-10, 0,-2, -12,-8, -25,-3, -38,-3, 58,-12, 40,-15, 25,-13, -50,10, -48,0, 62,-5, 75,-5, -55,30, -42,35, -36,38, -30,24, -27,33, -24,18, -38,14, -32,14, -18,12, -8,18, 5,28, 15,20, 22,25, -3,20, 10,21,
               -52,28, -46,26, -40,28, -34,32, -28,28, -22,28, -16,30, -10,34, -4,30, 2,34, 8,30, 14,34, 20,30, -50,18, -44,20, -38,22, -32,18, -26,21, -20,18, -14,22, -8,28, -2,24, 4,20, 10,26, 16,24, 24,22, 30,20, -45,12, -40,10, -34,6, -28,6, -22,16, -16,8, -10,14, -4,6, 2,14, 8,10, 14,6, 20,10, 26,4, 32,8, 38,18, 44,22, 50,18, 56,10, 42,2, 30,12, -40,40, -28,38, -18,38, -5,40, 5,42, 18,40, 0,20, -30,12, 40,28, 60,22]
lt_l36_false = [-62,8, -60,2, -58,-3, -57,5, -55,-8, -54,-15, -52,-19, -50,-25, -48,-30, -45,-28, -43,-35, -40,-38, -36,-36, -33,-40, -28,-42, -23,-41, -18,-42, -12,-40, -8,-38, -3,-35, 2,-38, 8,-33, 15,-35, 20,-30, 25,-38, 28,-30, 33,-38, 38,-25, 43,-25, 45,-30, 50,-22, 55,-30, 60,-19, 65,-23, 70,-28, 75,-26, 80,-30, 90,-25, 95,-18, 100,-8, 85,-15, 78,-10, 72,-12, 68,-18, 62,-12, 55,-14, 80,-3, 88,0, 70,5, 75,10, 60,15, 65,8, 55,5, 45,12, 40,20, 32,27, 25,18, 18,26, 10,20, 0,28, 5,12, -5,15, -12,22, -20,14, -28,10, -35,6, -42,3, -48,8, -52,0, -50,-10, -45,-15, -40,-8, -35,-20, -30,-12, -25,-25, -20,-18, -15,-30, -10,-22, -5,-28, 0,-20, 5,-25, 10,-18, 15,-22, 20,-15, 25,-22, 30,-18, 35,-12, -45,-3, -40,-22, -35,-30, -30,-35, -25,-8, -20,-32, -15,-12, -10,-35, -5,-15, 0,-32, 5,-10, 10,-28, 15,-8, 20,-25, -55,-20, -50,-32, -38,-14, -28,-28, -18,-5, -8,-8, 2,-5, 12,-2, 22,-8, 30,-5, -42,-28, -32,-2, -22,0, -12,2, -2,-12, 8,2, -48,-18, -60,-8, -58,-12, -52,-5,
                -58,0, -55,-4, -52,-10, -48,-14, -45,-20, -42,-12, -38,-18, -35,-25, -32,-8, -30,-22, -28,-30, -25,-15, -22,-22, -20,-38, -18,-25, -15,-18, -12,-28, -10,-15, -8,-30, -5,-22, -2,-25, 2,-30, 5,-18, 8,-25, 12,-32, 15,-15, 18,-20, 22,-28, 28,-25, 35,-22, -55,-28, -50,-18, -45,-8, -40,-32, -35,-12, -30,-28, -25,-32, -20,-8, -15,-38, -10,-8, -5,-35, 0,-38, 10,-38, 20,-38, -48,-24, -42,-20, -36,-2, -28,-18, -18,-14, -8,-18, 2,-15, 12,-12, -52,3, -46,4, -30,0, -15,5, 0,5, 45,-18, 60,-25, 52,-30]

cc_l6_true = [-3.5,0.35, -3.3,0.4, -3.1,1.35, -3.0,0.1, -2.9,-2.5, -2.8,0.9, -2.7,1.35, -2.6,2.1, -2.6,-0.6, -2.5,-2.0, -2.4,0.6, -2.3,1.2, -2.2,-0.8, -2.1,2.2, -2.2,-2.9, -2.0,0.2, -2.0,-1.9, -1.9,1.6, -1.8,-1.3, -1.8,2.0, -1.7,0.8, -1.6,-0.3, -1.6,-2.3, -1.5,2.5, -1.5,1.2, -1.4,-1.0, -1.4,-3.3, -1.6,-3.5, -1.3,0.3, -1.2,1.9, -1.2,-2.8, -1.1,-0.5, -1.0,2.6, -1.0,-4.1, -1.0,-3.2, -0.9,1.0, -0.9,-1.6, -0.8,-3.6, -0.8,0.0, -0.7,2.2, -0.6,-1.0, -0.6,1.5, -0.5,-2.5, -0.5,-3.4, -0.4,0.5, -0.3,2.0, -0.3,-0.4, -0.2,-1.8, -0.1,1.2, -0.1,-3.4, 0.0,2.4, 0.0,0.2, 0.0,-0.9, 0.1,-2.6, 0.2,1.6, 0.2,-0.3, 0.3,-1.5, 0.3,-3.5, 0.4,2.9, 0.4,0.7, 0.5,-0.7, 0.6,1.2, 0.6,-2.0, 0.7,0.0, 0.8,1.8, 0.8,-1.2, 0.9,0.5, 1.0,-0.4, 1.0,1.3, 1.1,-1.7, 1.2,0.8, 1.2,-0.1, 1.3,-0.9, 1.4,0.6, 1.4,2.9, 1.4,-2.6, 1.5,-0.5, 1.6,0.2, 1.6,-1.5, 1.7,-1.0, 1.8,3.3, 1.9,-0.7, 2.0,-1.3, 2.1,0.6, 2.2,2.6, 2.2,-0.9, 2.3,-1.9, 2.4,-0.4, 2.5,1.5, 2.6,-0.3, 2.8,-1.3, 3.0,1.8, 3.0,0.9, 3.2,-1.1, 3.3,1.3, 3.4,0.7, 3.5,1.5, 3.6,1.1, 3.7,0.6, 3.8,1.4, 3.85,3.4, 3.9,2.1, 3.9,1.0, 4.0,0.4, 4.1,1.5, 4.2,0.9, 4.3,0.3, 4.4,1.2, 4.5,0.7, 4.6,1.4, 4.7,1.0, 4.9,0.9, 3.6,0.0, 2.6,0.9, 1.8,0.0, 1.0,0.1, 2.1,-0.2,
              -2.8,1.5, -2.3,1.7, -1.9,1.3, -1.4,1.7, -0.9,2.0, -0.5,2.4, -0.2,1.7, 0.3,2.2, 0.7,1.5, -2.6,0.3, -2.1,0.8, -1.6,0.5, -1.1,0.7, -0.5,0.9, 0.1,1.0, 0.6,0.8, 1.1,0.5, 1.6,0.9, -2.4,-0.3, -1.9,-0.6, -1.3,-0.2, -0.7,-0.3, 0.4,-0.2, 0.9,-0.8, 1.4,-0.2, -2.0,-1.1, -1.5,-1.4, -1.0,-1.2, -0.4,-1.4, 0.5,-1.1, 1.0,-1.3, 1.9,-1.1, -1.3,-2.0, -0.8,-2.2, 0.0,-2.1, 0.8,-1.8, 1.3,-2.1, -1.8,-2.6, -0.3,-2.9, 0.4,-2.7, 0.2,-3.9, 2.3,-1.5, 2.7,-0.7, 3.1,-0.8, 2.9,1.5, 3.3,1.6, 4.3,1.6, 4.0,1.2, 3.6,0.4, 4.5,1.0, 2.4,0.2, 1.9,1.3, 0.9,1.9]
cc_l6_false = [-3.4,0.4, -3.2,-0.2, -3.1,-0.5, -2.9,0.8, -2.7,1.0, -2.6,1.6, -2.5,0.3, -2.5,-1.1, -2.4,1.8, -2.3,-0.4, -2.2,0.9, -2.1,-1.5, -2.0,1.6, -1.9,-0.2, -1.8,0.5, -1.8,-0.9, -1.7,1.7, -1.6,-1.8, -1.6,1.0, -1.5,-0.6, -1.5,-2.4, -1.4,0.2, -1.4,-3.95, -1.3,1.9, -1.3,-1.2, -1.2,-0.2, -1.1,0.9, -1.1,-2.0, -1.0,-0.9, -1.0,1.6, -0.9,-2.7, -0.9,0.4, -0.8,-1.5, -0.8,-0.4, -0.7,1.2, -0.7,-0.8, -0.6,2.0, -0.6,-2.1, -0.5,0.1, -0.4,2.8, -0.4,-1.2, -0.4,-3.8, -0.3,0.8, -0.3,-3.9, -0.2,-0.6, -0.1,1.5, -0.1,-1.8, 0.0,-0.2, 0.0,-3.0, 0.1,0.6, 0.1,-1.2, 0.2,2.1, 0.2,-0.8, 0.3,1.0, 0.3,-2.4, 0.4,-0.4, 0.5,0.3, 0.5,-1.5, 0.6,1.6, 0.7,-0.9, 0.8,0.5, 0.9,-0.3, 0.9,-1.8, 1.0,2.7, 1.0,1.0, 1.1,-1.2, 1.2,0.3, 1.3,-0.6, 1.3,2.0, 1.4,-1.6, 1.5,1.1, 1.6,-2.0, 1.7,-2.7, 1.8,0.3, 1.9,-0.5, 2.0,1.2, 2.1,-1.0, 2.2,2.3, 2.3,0.7, 2.3,-1.5, 2.4,1.4, 2.6,0.6, 2.7,1.0, 2.8,-0.6, 2.9,0.5, 3.0,1.3, 3.1,0.7, 3.2,0.2, 3.3,1.7, 3.4,2.4, 3.4,-0.9, 3.5,0.9, 3.6,-0.4, 3.9,-0.1, 4.0,0.15, 2.5,0.3,
               -3.0,0.3, -2.7,-0.2, -2.2,0.1, -1.7,0.1, -1.2,0.5, -0.7,0.4, -0.2,0.3, 0.3,0.2, 0.8,0.0, -2.8,1.3, -2.3,1.3, -1.8,1.2, -1.3,1.0, -0.8,1.7, -0.3,1.2, 0.6,1.0, -2.0,-0.6, -1.6,-1.1, -1.1,-0.6, -0.6,-1.3, -0.1,-0.8, 0.4,-1.1, 0.9,-1.0, 1.4,-1.0, 1.9,-1.3, -1.9,-1.9, -1.3,-1.6, -0.9,-2.2, -0.4,-2.0, 0.2,-1.6, 0.7,-2.0, 1.2,-1.8, -1.6,-3.0, -0.7,-3.0, 0.4,-2.9, -1.4,-3.9, 1.9,-2.3, 2.6,1.3, 2.2,0.8, 2.9,0.9, 3.2,1.2, 2.6,1.8, 2.0,1.7, 3.0,-1.4, 1.5,2.0, -2.1,2.0, -0.2,2.5, 2.4,-0.6]

cc_l8_true = [-9.6,-1.7, -9.3,-0.5, -9.4,-2.1, -9.0,-1.0, -8.8,-2.5, -8.6,-1.3, -8.5,-0.4, -8.4,-3.0, -8.2,-1.9, -8.0,0.3, -7.9,-0.7, -7.8,-2.7, -7.6,-1.5, -7.5,-3.3, -7.4,-0.3, -7.2,-2.2, -7.1,-3.8, -7.0,-1.0, -6.8,-2.8, -6.7,-1.8, -6.6,-6.1, -6.5,-3.4, -6.3,-2.3, -6.1,-4.0, -5.9,-3.0, -6.6,1.4, -6.0,0.6, -5.6,1.2, -5.0,0.6, -4.7,-0.7, -4.6,2.1, -4.4,1.0, -4.2,4.0, -3.9,3.2, -3.7,2.8, -3.6,0.2, -3.5,-2.0, -3.3,5.3, -3.2,4.0, -3.1,5.8, -2.9,1.8, -2.8,4.6, -2.7,0.5, -2.5,3.3, -2.4,-1.0, -2.3,2.3, -2.2,4.2, -2.0,-0.3, -1.9,1.2, -1.8,3.6, -1.7,-2.0, -1.6,5.3, -1.4,2.6, -1.3,0.2, -1.2,-0.9, -1.0,4.3, -0.9,1.6, -0.8,-1.5, -0.7,3.1, -0.6,0.4, -0.5,-2.8, -0.4,5.0, -0.3,2.3, -0.2,-0.5, -0.1,1.2, 0.0,-3.8, 0.0,3.7, 0.1,-1.8, 0.2,0.5, 0.3,-4.5, 0.4,2.8, 0.5,-1.0, 0.6,-5.2, 0.6,1.6, 0.7,4.3, 0.8,-2.5, 0.9,0.0, 1.0,2.3, 1.1,-3.6, 1.2,5.3, 1.3,1.0, 1.4,-1.3, 1.5,3.7, 1.6,-5.3, 1.7,-0.2, 1.8,2.8, 1.9,-2.2, 2.0,1.4, 2.1,-4.0, 2.2,3.2, 2.3,0.4, 2.4,-1.2, 2.5,4.0, 2.6,1.8, 2.7,-5.6, 2.8,-0.6, 2.9,2.6, 3.0,0.9, 3.1,-1.9, 3.2,3.0, 3.3,0.0, 3.4,1.7, 3.5,5.0, 3.6,-0.9, 3.7,2.2, 3.8,0.6, 4.0,1.3, 4.3,-0.4, 4.9,-2.0, 1.4,-3.0, -0.5,3.8,
              -3.8,1.6, -3.0,2.6, -2.4,0.1, -1.8,-0.6, -1.2,2.2, -0.6,-0.4, 0.0,1.8, 0.4,-2.3, 0.8,3.5, 1.2,-0.4, 1.6,2.0, 2.0,-1.2, 2.4,3.0, 2.8,0.3, 3.2,-1.0, 3.6,1.0, -3.0,-0.7, -2.2,1.0, -1.6,3.0, -1.0,0.8, -0.4,2.6, 0.2,-1.0, 0.6,0.8, 1.0,-2.0, 1.4,4.4, 1.8,0.6, 2.2,-2.8, 2.6,2.4, 3.0,-0.3, 3.4,2.6, 3.8,1.8, 4.1,0.2, -2.0,5.0, -0.8,4.8, 0.4,5.5, 2.0,4.6, -1.4,-1.4, 0.8,-3.2, 1.8,-3.3, 2.5,-3.8, 3.0,-2.8, -7.0,-0.5, -8.0,-1.4, -6.5,-2.0, -9.1,-1.5, -7.6,-2.3, -5.5,-0.5, -4.8,2.6]
cc_l8_false = [-9.0,0.0, -7.5,-0.4, -7.0,-2.2, -6.8,-3.1, -6.6,1.9, -6.3,1.9, -6.2,-1.1, -6.0,-2.6, -5.9,-4.8, -5.6,-1.5, -5.5,-3.9, -5.4,-5.0, -5.3,0.3, -5.2,2.6, -5.1,-2.2, -5.0,3.2, -4.9,-0.4, -4.8,-3.5, -4.6,1.5, -4.5,2.9, -4.4,-4.0, -4.3,-1.1, -4.2,-6.5, -4.1,0.6, -4.0,-3.0, -3.8,2.2, -3.7,-4.4, -3.6,1.2, -3.5,-1.7, -3.4,3.6, -3.3,0.0, -3.2,-4.2, -3.1,-2.6, -3.0,-5.2, -2.9,2.6, -2.8,0.8, -2.7,6.2, -2.6,-1.3, -2.5,4.6, -2.4,1.7, -2.3,-3.5, -2.2,-0.2, -2.1,3.1, -2.0,-2.1, -1.8,2.1, -1.6,6.5, -1.7,-4.3, -1.5,0.5, -1.4,3.8, -1.3,-2.8, -1.2,1.6, -1.1,-0.8, -1.0,4.6, -0.9,2.7, -0.8,-3.5, -0.7,0.9, -0.6,-1.8, -0.5,3.4, -0.4,-0.2, -0.3,1.9, -0.2,-2.6, -0.1,4.1, 0.0,0.3, 0.1,-1.4, 0.2,2.6, 0.3,-6.8, 0.4,-0.6, 0.5,1.2, 0.6,-3.0, 0.7,3.5, 0.8,-1.9, 0.9,0.6, 1.0,2.1, 1.1,-0.9, 1.2,-2.6, 1.3,1.6, 1.4,-4.9, 1.5,0.2, 1.6,2.9, 1.7,-3.8, 1.8,-1.5, 1.9,0.9, 2.0,-3.0, 2.1,2.3, 2.2,-0.4, 2.3,-5.0, 2.4,1.2, 2.5,-2.2, 2.6,0.1, 2.7,-3.4, 2.8,3.6, 2.9,-1.1, 3.0,1.5, 3.1,-2.6, 3.2,-0.2, 3.3,-4.4, 3.4,0.8, 3.5,-1.7, 3.6,-3.2, 3.8,-0.8, 3.9,-2.3, 4.0,-1.4, 4.2,-0.3, 4.3,-2.7, 4.5,-1.0, 4.7,-1.8, 4.9,-0.5, 5.0,-0.3, 5.0,-2.3, 4.6,-0.9, 1.8,5.5, -1.5,6.6, 2.5,5.2, -3.8,5.3, -1.3,-6.5, 0.1,-5.7, 1.7,-5.6, 2.6,-6.0,
               -4.2,1.0, -3.6,-0.4, -3.0,1.8, -2.4,0.3, -1.8,-1.0, -1.2,0.6, -0.6,2.0, 0.0,-0.6, 0.4,1.7, 0.8,-0.3, 1.2,0.8, 1.6,-0.5, 2.0,1.8, 2.4,-1.3, 2.8,0.6, 3.2,-1.5, 3.6,0.2, 4.0,-2.0, 4.4,-1.6, 4.8,-1.2, -3.4,-2.2, -2.6,-2.5, -1.8,-3.0, -1.0,-1.5, -0.4,-3.0, 0.4,-2.0, 1.0,-3.6, 1.6,-2.2, 2.2,-3.6, 2.6,-1.6, 3.0,-3.8, 3.4,-2.2, 3.8,-3.0, 4.2,-1.0, 4.6,-2.6, -2.8,3.8, -2.0,4.0, -1.2,5.0, 0.0,4.8, 1.0,4.0, 2.0,3.4, -5.6,-2.6, -6.0,-3.6, -4.6,-4.6, -3.6,-5.4, -2.0,-4.8, 1.0,-5.0, 2.0,-4.2, 0.6,-4.4]

cc_l10_true = [-5.5,-3.8, -5.0,-3.5, -4.8,-7.6, -4.6,-5.2, -4.4,-2.3, -4.2,-6.5, -4.0,-4.2, -3.9,-8.6, -3.8,-1.0, -3.6,-5.8, -3.5,-3.0, -3.4,-8.0, -3.2,-0.4, -3.1,-6.8, -3.0,-4.8, -2.9,-2.0, -2.8,-7.6, -2.7,0.5, -2.6,-5.4, -2.5,-3.5, -2.4,-8.6, -2.3,-1.5, -2.2,-6.2, -2.1,-4.1, -2.0,-0.5, -1.9,-7.2, -1.8,-2.8, -1.7,-5.0, -1.6,-8.5, -1.5,0.8, -1.4,-3.8, -1.3,-6.4, -1.2,-1.8, -1.1,-9.9, -1.0,-4.6, -0.9,-0.2, -0.8,-7.0, -0.7,-3.0, -0.6,-5.8, -0.5,1.6, -0.4,-2.0, -0.3,-4.2, -0.2,-7.8, -0.1,-0.8, 0.0,-5.2, 0.1,2.4, 0.2,-3.4, 0.3,-1.5, 0.4,-6.2, 0.5,0.6, 0.6,-2.6, 0.7,-4.6, 0.8,1.8, 0.9,-0.9, 1.0,-3.5, 1.1,3.4, 1.2,0.2, 1.3,-1.8, 1.4,-4.0, 1.5,2.4, 1.6,-0.6, 1.7,-2.8, 1.8,1.1, 1.9,3.8, 2.0,-1.4, 2.1,-3.6, 2.2,0.4, 2.3,2.2, 2.4,-2.4, 2.5,-0.4, 2.6,3.1, 2.7,-3.0, 2.8,1.5, 2.9,-1.6, 3.0,0.4, 3.2,-2.8, 3.3,-1.2, 3.5,1.0, 3.6,3.6, 3.8,-0.2, 4.0,4.2, 4.2,-2.4, 4.3,-4.0, 3.7,-3.8, 5.0,-1.8, 5.5,2.3, 5.9,-2.2, 7.0,3.2, 9.0,-6.7, 9.5,2.3, 11.0,-0.8, 11.2,-2.4, 11.5,-3.0, 11.7,-1.5, 11.8,0.5, 12.0,-3.8, 12.2,-1.0, 12.4,1.0, 12.5,-2.2, 12.7,-0.3, 12.9,1.6, 13.1,-1.4, 13.3,0.4, 13.5,-2.6, 13.7,1.0, 13.9,-0.4, 14.1,2.0, 14.3,-1.6, 14.5,0.5, 14.7,1.3, 14.9,-0.6, 15.1,0.8, 15.3,1.9, 15.6,1.3, 15.7,0.2, 13.0,-3.2, 12.3,-4.0, 14.0,-2.4, 4.0,2.8, -4.8,-1.6,
               -3.8,-3.4, -3.4,-4.6, -3.0,-2.6, -2.8,-5.8, -2.6,-3.0, -2.4,-4.6, -2.2,-2.2, -2.0,-6.6, -1.8,-3.8, -1.6,-1.2, -1.4,-5.4, -1.2,-2.8, -1.0,-7.4, -0.8,-4.0, -0.6,-1.2, -0.4,-6.4, -0.2,-3.0, 0.0,-1.8, 0.2,-5.8, 0.4,-2.2, 0.6,-0.2, 0.8,-3.8, 1.0,-1.6, 1.2,-5.0, 1.4,-0.8, 1.6,-3.2, 1.8,-2.0, 2.2,-1.0, 2.6,-2.0, 3.0,-0.8, -3.2,-7.2, -2.2,-7.8, -1.3,-8.8, -0.5,-8.6, -3.6,-6.2, -4.4,-4.6, 0.6,1.2, 1.4,1.6, 2.4,1.4, 3.2,2.2, 11.4,-1.0, 12.0,0.0, 12.8,-1.0, 13.6,0.0, 14.4,1.0, 15.0,-0.2, 13.2,1.2, 12.4,-3.0]
cc_l10_false = [-7.2,4.6, -6.0,4.4, -5.9,-1.4, -5.4,3.6, -5.3,5.1, -5.0,2.6, -5.0,0.0, -4.7,1.5, -4.6,6.8, -4.5,3.8, -4.4,-6.2, -4.2,5.5, -4.0,2.2, -3.9,-1.3, -3.8,0.9, -3.7,7.3, -3.6,4.6, -3.5,3.0, -3.4,6.1, -3.3,-0.4, -3.2,1.8, -3.1,8.5, -3.0,5.3, -2.9,3.7, -2.8,2.4, -2.7,6.7, -2.6,0.9, -2.5,4.4, -2.4,-2.6, -2.3,7.6, -2.2,3.1, -2.1,5.8, -2.0,1.6, -1.9,9.6, -1.8,4.9, -1.7,2.6, -1.6,7.0, -1.5,0.3, -1.4,3.9, -1.3,6.0, -1.2,1.9, -1.1,8.1, -1.0,4.4, -0.9,-1.0, -0.8,2.9, -0.7,6.5, -0.6,5.0, -0.5,1.2, -0.4,3.6, -0.3,7.5, -0.2,-3.6, -0.1,5.5, 0.0,2.2, 0.2,4.1, 0.3,6.3, 0.4,-0.8, 0.5,3.0, 0.7,5.2, 0.8,-2.0, 0.9,1.5, 1.1,4.0, 1.3,6.6, 1.5,3.0, 1.8,5.5, 2.0,-1.7, 2.3,4.5, 2.6,-3.5, 3.0,1.0, 3.3,6.0, 3.6,-3.0, 4.5,-1.0, -3.2,-5.5, -2.2,-4.5, 0.0,-7.0, 8.9,3.8, 7.5,3.8, 8.2,1.4, 7.6,0.0, 7.8,-3.2, 9.0,-2.8, 9.5,0.5, 10.2,2.9, 10.5,3.6, 11.0,1.4, 11.5,3.4, 11.0,2.2, 12.0,1.5, 12.8,1.4, 13.3,3.7, 12.4,-0.4, 11.0,-2.4, 10.6,-1.6, 12.7,0.8, 6.0,-0.5, 5.5,0.2, -4.5,-2.7, -3.5,-4.0, -1.2,-5.3, 1.0,-4.5, -2.8,3.0, -2.0,2.3, -0.9,3.2, -3.6,5.6, -2.6,4.2, -1.4,5.0, -0.6,4.2, -3.0,1.2, -1.8,0.8,
                -4.2,3.0, -4.0,4.2, -3.8,5.8, -3.6,2.0, -3.4,4.0, -3.2,6.8, -3.0,3.0, -2.8,5.0, -2.6,7.2, -2.4,2.0, -2.2,4.8, -2.0,6.5, -1.8,3.2, -1.6,5.5, -1.4,8.0, -1.2,3.0, -1.0,6.8, -0.8,4.0, -0.6,7.8, -0.4,2.5, -0.2,4.6, 0.0,6.8, 0.2,3.0, 0.5,5.8, -3.9,2.8, -3.3,3.4, -2.5,5.8, -1.9,4.2, -1.1,5.6, -0.3,5.0, -4.4,4.8, -3.0,7.6, -2.0,8.2, -4.8,1.0, -3.5,1.0, -2.4,0.5, -1.2,0.5, 0.6,1.0, 1.0,2.6, -4.0,-0.2, -2.8,-1.2, -1.5,-1.5, -0.5,-0.3, 0.3,0.2, 1.6,1.6, 2.2,3.0, 3.6,3.5, 4.6,2.0]

cc_l12_true = [-17.8,10.2, -17.5,9.6, -17.0,10.5, -16.8,9.0, -16.4,9.8, -16.0,8.6, -15.6,9.2, -15.4,7.8, -15.0,8.5, -14.6,7.4, -14.2,8.2, -14.0,6.6, -13.6,7.5, -13.2,5.9, -12.8,6.9, -12.5,5.2, -12.0,6.0, -11.6,4.6, -11.2,5.4, -10.8,3.8, -10.4,4.6, -10.0,3.2, -9.6,4.0, -9.8,1.3, -9.2,2.5, -8.8,3.3, -8.5,1.8, -8.0,2.6, -7.6,1.0, -7.2,1.9, -6.8,0.3, -6.5,-0.4, -6.2,1.1, -5.8,-0.6, -5.4,0.4, -5.0,-1.2, -4.6,-0.2, -4.2,-1.9, -3.8,-0.8, -3.4,-2.6, -3.0,-1.4, -2.6,-3.2, -2.2,-2.0, -1.8,-4.0, -1.4,-2.6, -1.0,-4.6, -0.6,-3.2, -0.2,-5.2, 0.2,-4.0, 0.6,-5.8, 1.0,-4.6, 1.4,-6.6, 1.8,-5.2, 2.2,-7.4, 2.6,-6.0, 3.0,-8.2, 3.4,-6.8, 3.8,-9.0, 4.2,-7.6, 4.6,-9.8, 5.0,-8.5, 5.3,-10.7, 3.0,-10.6, 1.5,-9.8, 0.5,-8.8, -0.5,-7.6, -1.5,-6.4, -2.5,-5.2, -3.5,-4.2, -4.5,-4.8, -5.5,-2.6, -6.5,-1.6, -7.5,-0.6, -8.5,0.4, -9.5,1.6, -10.5,2.4, -12.5,3.8, -3.0,-6.5, -1.2,-7.5, 0.2,-10.0, 2.0,-10.3, 4.0,-11.0, 5.5,-11.3, -14.5,5.2, -8.8,-0.5, -5.0,-9.2, -7.8,-3.5, -6.2,-3.0, -1.0,-1.2, 0.5,-2.2, 1.2,-3.2, 2.8,-4.5, -2.8,-0.3, -4.0,0.8, -0.4,-1.0,
               -17.2,9.8, -16.6,10.0, -16.2,9.2, -15.8,8.2, -15.2,9.0, -14.8,7.8, -14.4,8.6, -13.8,7.0, -13.4,6.4, -13.0,7.2, -12.6,6.2, -12.2,5.4, -11.8,4.0, -11.4,6.0, -11.0,4.4, -10.6,3.2, -10.2,5.0, -9.8,2.8, -9.4,3.4, -9.0,1.2, -8.6,2.6, -8.2,1.0, -7.8,2.2, -7.4,0.2, -7.0,1.2, -6.6,-0.8, -6.0,0.4, -5.6,-1.6, -5.2,-0.4, -4.8,-2.4, -4.4,-1.0, -4.0,-3.2, -3.6,-1.6, -3.2,-3.6, -2.8,-2.2, -2.4,-4.2, -2.0,-2.8, -1.6,-4.8, -1.2,-3.4, -0.8,-5.6, -0.4,-4.0, 0.0,-6.4, 0.4,-4.8, 0.8,-7.2, 1.2,-5.6, 1.6,-8.0, 2.0,-6.4, 2.4,-8.8, 2.8,-7.0, 3.2,-9.6, 3.6,-7.8, 4.0,-10.2, 4.4,-8.6, 4.8,-10.4, 5.2,-9.4, -2.0,-6.0, -1.0,-6.8, 0.0,-8.0, 1.0,-9.0, 2.2,-10.0, 3.5,-10.8, -4.0,-5.5, -6.5,-2.5, -9.0,-0.8, -3.8,-0.1, -1.8,-1.5, 0.0,-3.2]
cc_l12_false = [-9.5,5.4, -9.0,10.4, -8.8,11.0, -8.5,14.8, -8.0,12.5, -7.8,6.0, -7.5,9.3, -7.0,7.5, -6.8,13.8, -6.5,16.8, -6.2,11.5, -6.0,8.5, -5.5,13.8, -5.2,10.1, -5.0,6.8, -4.6,15.7, -4.4,12.0, -4.2,8.0, -3.8,14.0, -3.5,10.0, -3.2,6.2, -3.0,12.5, -2.8,15.0, -2.5,8.6, -2.2,12.5, -2.0,4.0, -1.8,10.0, -1.5,14.8, -1.4,6.5, -1.0,13.0, -0.8,3.0, -0.5,8.8, -0.2,11.0, 0.0,5.5, 0.3,-0.5, 0.5,7.8, 0.8,2.3, 1.0,13.3, 1.2,4.8, 1.5,-1.8, 1.8,7.0, 2.0,0.5, 2.3,9.5, 2.5,3.2, 2.8,-3.2, 3.0,5.8, 3.2,1.2, 3.5,10.0, 3.8,-1.0, 4.0,7.5, 4.2,3.6, 4.5,-4.5, 4.8,1.0, 5.0,5.0, 5.2,-2.5, 5.5,8.0, 5.8,2.4, 6.0,-6.0, 6.2,4.6, 6.5,10.0, 6.8,-0.6, 7.0,6.5, 7.2,2.0, 7.5,-3.5, 7.8,8.8, 8.0,0.5, 8.2,4.3, 8.5,-1.8, 8.8,10.2, 9.0,6.0, 9.2,2.4, 9.5,-5.0, 9.8,0.0, 10.0,4.0, 10.2,8.0, 10.5,-2.5, 10.8,2.0, 11.0,9.5, 11.3,5.5, 11.5,-0.5, 12.0,3.2, 12.5,6.8, 12.8,1.0, 13.0,-3.5, 13.5,4.5, 14.0,8.0, 14.2,0.5, 14.5,2.6, 15.0,5.6, 15.4,9.6, 16.0,3.3, 16.8,4.0, 13.0,2.0, 6.5,-8.0, 7.3,-6.6, 5.5,-8.3, 2.5,-6.0, 1.0,-4.5, -1.0,1.5, -1.5,-3.0, -7.5,0.5, -5.0,3.5, -0.5,-0.5, 3.5,-5.5, 11.0,-3.5, 4.5,12.5, 8.0,12.0, 3.3,5.0, 5.8,6.2, 7.5,4.0, 9.5,3.0, 2.0,2.0, 4.0,0.0, 6.0,0.8,
                -1.0,4.5, 0.0,2.0, 0.5,4.0, 1.0,0.5, 1.5,6.0, 2.0,3.5, 2.5,1.0, 3.0,-1.5, 3.5,3.0, 4.0,5.5, 4.5,2.0, 5.0,-0.5, 5.5,3.5, 6.0,6.5, 6.5,1.5, 7.0,-1.5, 7.5,5.5, 8.0,2.5, 8.5,0.0, 9.0,4.5, 9.5,7.0, 10.0,1.5, 10.5,5.0, 11.0,-1.0, 11.5,3.0, 12.0,6.0, 12.5,-1.0, 13.0,4.0, 5.0,7.0, 6.0,-3.0, 8.0,-3.8, 3.0,8.0, 2.0,-4.0, 7.0,8.0, 4.0,-2.5, 9.0,-2.0, 14.0,6.0, 6.5,-5.0, 5.5,-6.5, 3.5,-7.0]

cc_l36_true = [-95,-40, -92,-45, -90,-50, -88,-55, -85,-48, -82,-60, -80,-38, -78,-52, -75,-44, -72,-35, -70,-50, -68,-40, -65,-56, -62,-30, -60,-45, -58,-52, -55,-38, -52,-25, -50,-48, -48,-55, -45,-32, -42,-42, -40,-20, -38,-50, -35,-28, -32,-40, -30,-53, -28,-15, -25,-35, -22,-45, -20,-25, -18,-55, -15,-38, -12,-10, -10,-30, -8,-48, -5,-20, -2,-40, 0,-12, 2,-32, 5,-50, 8,-22, 10,-40, 12,-5, 15,-28, 18,-45, 20,-15, 22,-35, 25,0, 28,-20, 30,-42, 32,-8, 35,-28, 38,5, 40,-15, 42,-35, 45,-2, 48,-22, 50,10, 52,-10, 55,-28, 58,0, 60,15, 62,-15, 65,5, 68,20, 70,-5, 72,12, 75,25, 78,2, 80,18, 82,28, 85,10, 88,22, 90,30, 78,-2, 70,-10, 60,-5, 55,5, 45,8, 35,-15, 25,-10, 15,-12, -8,-28, -25,-22, -35,-48, -48,-38, -58,-35, -68,-45, -78,-48, -5,-52, 10,-52, 25,-45, 40,-40, 5,-8, -15,-3, 20,-30, 65,15, 50,-5, 0,-45, -15,-45, 30,-30, 45,-20, 55,-15, -30,-35, -40,-30,
               -90,-45, -85,-55, -80,-45, -75,-52, -72,-42, -68,-52, -65,-38, -62,-48, -58,-40, -55,-50, -52,-42, -50,-30, -46,-45, -44,-36, -40,-45, -38,-25, -35,-40, -32,-30, -30,-45, -28,-38, -25,-28, -22,-40, -20,-50, -18,-30, -15,-20, -12,-42, -10,-22, -8,-38, -5,-30, -2,-18, 0,-35, 2,-25, 5,-40, 8,-30, 10,-15, 12,-35, 15,-20, 18,-38, 20,-8, 22,-25, 25,-32, 28,-12, 30,-22, 32,-35, 35,-5, 38,-20, 40,-30, 42,-10, 45,-25, 48,0, 50,-15, 52,5, 55,-10, 58,10, 60,-10, 62,5, 65,-5, 68,10, 70,0, 72,18, 75,5, 78,15, 80,8, 82,20, 85,15, 88,28, 72,-2, 62,20, 48,-12, 38,-8, 28,-5, 15,-5, 5,-15, -5,-8, -20,-15, -35,-20, -45,-25]
cc_l36_false = [-105,15, -100,8, -100,30, -98,22, -95,-2, -95,12, -92,-17, -90,35, -88,0, -85,23, -85,-20, -82,10, -80,-25, -78,38, -76,-8, -75,28, -72,16, -70,4, -70,45, -68,-15, -65,32, -62,22, -60,8, -60,50, -58,-5, -55,38, -52,16, -50,-22, -50,27, -48,47, -45,3, -42,35, -40,-10, -40,15, -38,55, -35,25, -32,43, -30,5, -28,-20, -25,33, -22,12, -20,52, -18,-5, -15,24, -12,40, -10,0, -8,58, -5,14, -2,30, 0,45, 2,-2, 5,22, 8,60, 10,8, 12,36, 15,50, 18,-10, 20,18, 22,64, 25,30, 28,2, 30,46, 32,14, 35,57, 38,-5, 40,28, 42,40, 45,10, 48,55, 50,22, 52,-10, 55,35, 58,5, 60,42, 62,15, 65,30, 68,-2, 70,20, 75,35, 78,10, 85,25, 80,30, -30,-18, -10,-22, -45,-28, 0,-18, 10,-12, -65,-5, -80,-10, -20,-12, -55,-12, 20,42, -35,48, -15,55, 35,45, 50,52, 65,48, -60,35, -75,15, -25,15, 5,38, -5,48, 15,28, 28,20, 45,25, -40,30, -50,5,
                -90,15, -85,5, -80,28, -78,0, -72,25, -68,10, -65,-8, -62,40, -58,28, -55,15, -52,42, -50,-2, -48,20, -45,32, -42,10, -40,50, -38,-5, -35,38, -32,20, -30,55, -28,-8, -25,45, -22,25, -20,0, -18,35, -15,10, -12,50, -10,28, -8,-8, -5,40, -2,18, 0,55, 2,8, 5,30, 8,48, 10,-2, 12,22, 15,40, 18,5, 20,58, 22,28, 25,12, 28,45, 30,-2, 32,32, 35,20, 38,50, 40,8, 42,30, 45,45, 48,15, 50,38, 55,22, 58,48, 60,28, 65,38, 70,30, 72,40, 75,22, -95,22, -85,35]

points = {
    ("sp_en_trans", 6): (sp_l6_true, sp_l6_false),
    ("sp_en_trans", 8): (sp_l8_true, sp_l8_false),
    ("sp_en_trans", 10): (sp_l10_true, sp_l10_false),
    ("sp_en_trans", 12): (sp_l12_true, sp_l12_false),
    ("sp_en_trans", 36): (sp_l36_true, sp_l36_false),
    ("larger_than", 6): (lt_l6_true, lt_l6_false),
    ("larger_than", 8): (lt_l8_true, lt_l8_false),
    ("larger_than", 10): (lt_l10_true, lt_l10_false),
    ("larger_than", 12): (lt_l12_true, lt_l12_false),
    ("larger_than", 36): (lt_l36_true, lt_l36_false),
    ("cities_cities_conj", 6): (cc_l6_true, cc_l6_false),
    ("cities_cities_conj", 8): (cc_l8_true, cc_l8_false),
    ("cities_cities_conj", 10): (cc_l10_true, cc_l10_false),
    ("cities_cities_conj", 12): (cc_l12_true, cc_l12_false),
    ("cities_cities_conj", 36): (cc_l36_true, cc_l36_false),
}

# axis layout per panel: (xlim, ylim, xticks, yticks)
axis_layout = [
    [((-5.92, 6.17), (-6.52, 4.46), [-5, 0, 5], [-6, -4, -2, 0, 2, 4]),
     ((-7.6, 7.6), (-8.4, 6.8), [-5, 0, 5], [-5, 0, 5]),
     ((-12.0, 14.9), (-11.2, 11.2), [-10, 0, 10], [-10, -5, 0, 5, 10]),
     ((-21.1, 15.1), (-14.5, 14.8), [-20, -10, 0, 10], [-10, 0, 10]),
     ((-124, 90), (-83.4, 76.5), [-100, -50, 0, 50], [-50, 0, 50])],
    [((-5.1, 5.6), (-4.52, 3.31), [-5, 0, 5], [-4, -2, 0, 2]),
     ((-6.8, 7.5), (-4.72, 5.14), [-5, 0, 5], [-4, -2, 0, 2, 4]),
     ((-7.35, 11.2), (-9.1, 6.64), [-5, 0, 5, 10], [-5, 0, 5]),
     ((-8.6, 13.2), (-7.5, 12.0), [-5, 0, 5, 10], [-5, 0, 5, 10]),
     ((-77.8, 170), (-48.5, 51.6), [-50, 0, 50, 100, 150], [-40, -20, 0, 20, 40])],
    [((-4.2, 5.55), (-4.73, 4.03), [-4, -2, 0, 2, 4], [-4, -2, 0, 2, 4]),
     ((-10.9, 6.34), (-7.67, 7.5), [-10, -5, 0, 5], [-5, 0, 5]),
     ((-9.0, 17.7), (-11.4, 11.0), [0, 10], [-10, -5, 0, 5, 10]),
     ((-20.3, 19.9), (-14.0, 19.1), [-20, -10, 0, 10], [-10, 0, 10]),
     ((-126.8, 112), (-69.2, 74.4), [-100, -50, 0, 50, 100], [-50, 0, 50])],
]

W, H = 1340, 872
BG = "#E5ECF6"
TXT = "#2a3f5f"
BLUE, RED = "blue", "red"

fig = plt.figure(figsize=(W / 100, H / 100), dpi=100)

left0, step_x, pw = 72, 261.5, 212
tops, ph = [87, 349.5, 612], 225

for r, ds in enumerate(datasets):
    for c, layer in enumerate(layers):
        x0 = left0 + c * step_x
        y0 = tops[r]
        ax = fig.add_axes([x0 / W, 1 - (y0 + ph) / H, pw / W, ph / H])
        ax.set_facecolor(BG)
        xlim, ylim, xt, yt = axis_layout[r][c]

        for v in xt:
            ax.axvline(v, color="white", lw=1.5 if v == 0 else 0.8, zorder=0)
        for v in yt:
            ax.axhline(v, color="white", lw=1.5 if v == 0 else 0.8, zorder=0)

        t_pts, f_pts = points[(ds, layer)]
        t = np.array(t_pts, dtype=float).reshape(-1, 2)
        f = np.array(f_pts, dtype=float).reshape(-1, 2)
        xy, cols = [], []
        for i in range(max(len(t), len(f))):
            if i < len(t):
                xy.append(t[i]); cols.append(BLUE)
            if i < len(f):
                xy.append(f[i]); cols.append(RED)
        xy = np.array(xy)
        ax.scatter(xy[:, 0], xy[:, 1], c=cols, s=36, linewidths=0, zorder=2)

        ax.set_xlim(*xlim)
        ax.set_ylim(*ylim)
        ax.set_xticks(xt)
        ax.set_yticks(yt)
        ax.tick_params(length=0, labelsize=10, labelcolor=TXT, pad=3)
        ax.tick_params(axis="x", pad=4)
        for s in ax.spines.values():
            s.set_visible(False)

        if r == 0:
            fig.text((x0 + pw / 2) / W, 1 - 81.5 / H, f"layer {layer}",
                     ha="center", va="baseline", fontsize=14, color=TXT)
    fig.text(19 / W, 1 - (tops[r] + ph / 2) / H, ds, rotation=90,
             ha="center", va="center", fontsize=12.5, color=TXT)

fig.text(47 / W, 1 - 26.5 / H, "Dataset visualizations across layers",
         ha="left", va="baseline", fontsize=17.5, color=TXT)

for label, col, yc in [("True", BLUE, 14.7), ("False", RED, 43.3)]:
    fig.add_artist(Line2D([1248 / W], [1 - yc / H], marker="o", color=col,
                          markersize=10, linestyle="none",
                          transform=fig.transFigure))
    fig.text(1263 / W, 1 - (yc + 8.2) / H, label, ha="left", va="baseline",
             fontsize=16, color="black")

fig.savefig("out.png", dpi=100)
